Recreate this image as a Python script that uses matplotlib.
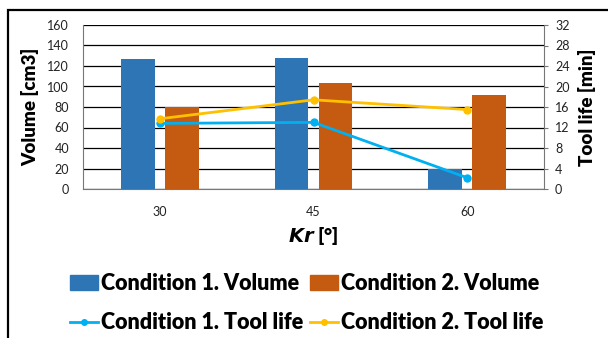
import matplotlib
matplotlib.use("Agg")
import matplotlib.pyplot as plt
import numpy as np
from matplotlib.patches import Rectangle
from matplotlib.lines import Line2D
from matplotlib.patches import Patch

categories = ["30", "45", "60"]
vol_c1 = [127, 128, 20]
vol_c2 = [80, 103, 92]
life_c1 = [12.8, 13.0, 2.2]
life_c2 = [13.7, 17.4, 15.5]

c_blue = "#2E75B6"
c_orange = "#C55A11"
c_lblue = "#00B0F0"
c_yellow = "#FFC000"

plt.rcParams['font.family'] = ['Lato', 'DejaVu Sans']

fig = plt.figure(figsize=(6.08, 3.38), dpi=100)
ax = fig.add_axes([83/608, 1-189/338, (544-83)/608, (189-25)/338])
x = np.arange(len(categories))
bw = 0.22
ax.bar(x - 0.143, vol_c1, bw, color=c_blue, zorder=3)
ax.bar(x + 0.143, vol_c2, bw, color=c_orange, zorder=3)
ax.set_xlim(-0.5, 2.5)
ax.set_ylim(0, 160)
ax.set_yticks(np.arange(0, 161, 20))
ax.set_xticks(x)
ax.set_xticklabels(categories)
ax.grid(axis='y', color='black', linewidth=0.9, zorder=1)
ax.tick_params(axis='y', length=0, pad=10, labelsize=9, colors='#222222')
ax.tick_params(axis='x', length=0, pad=12, labelsize=9, colors='#222222')
for s in ['top', 'right']:
    ax.spines[s].set_visible(False)
ax.spines['left'].set_color('#777777')
ax.spines['bottom'].set_color('#777777')
ax.set_ylabel("Volume [cm3]", fontsize=13.5, fontweight='heavy', labelpad=6)
ax.set_xlabel(r"$\bfit{Kr}$ [°]", fontsize=14, fontweight='heavy', labelpad=5)

ax2 = ax.twinx()
ax2.set_ylim(0, 32)
ax2.set_yticks(np.arange(0, 33, 4))
ax2.plot(x, life_c1, color=c_lblue, lw=2, marker='o', ms=5, zorder=4)
ax2.plot(x, life_c2, color=c_yellow, lw=2, marker='o', ms=5, zorder=4)
for s in ['top', 'left', 'bottom']:
    ax2.spines[s].set_visible(False)
ax2.spines['right'].set_color('#777777')
ax2.tick_params(axis='y', length=3, width=0.8, color='#777777', pad=5, labelsize=9, labelcolor='#222222')
ax2.set_ylabel("Tool life [min]", fontsize=13.5, fontweight='heavy', labelpad=6)

handles = [Patch(color=c_blue),
           Line2D([], [], color=c_lblue, lw=2, marker='o', ms=4),
           Patch(color=c_orange),
           Line2D([], [], color=c_yellow, lw=2, marker='o', ms=4)]
labels = ["Condition 1. Volume", "Condition 1. Tool life",
          "Condition 2. Volume", "Condition 2. Tool life"]
leg = fig.legend(handles, labels, ncol=2, loc='center', bbox_to_anchor=(0.505, 1-303/338),
                 frameon=False, prop={'weight': 'heavy', 'size': 15.5},
                 handlelength=1.3, handleheight=0.7, handletextpad=0.15, columnspacing=0.3, labelspacing=0.85)

fig.patches.append(Rectangle((8/608, -0.1), 1.2, 1-10/338+0.1, transform=fig.transFigure,
                             fill=False, edgecolor='black', linewidth=1.6))

fig.savefig("out.png", dpi=100)
